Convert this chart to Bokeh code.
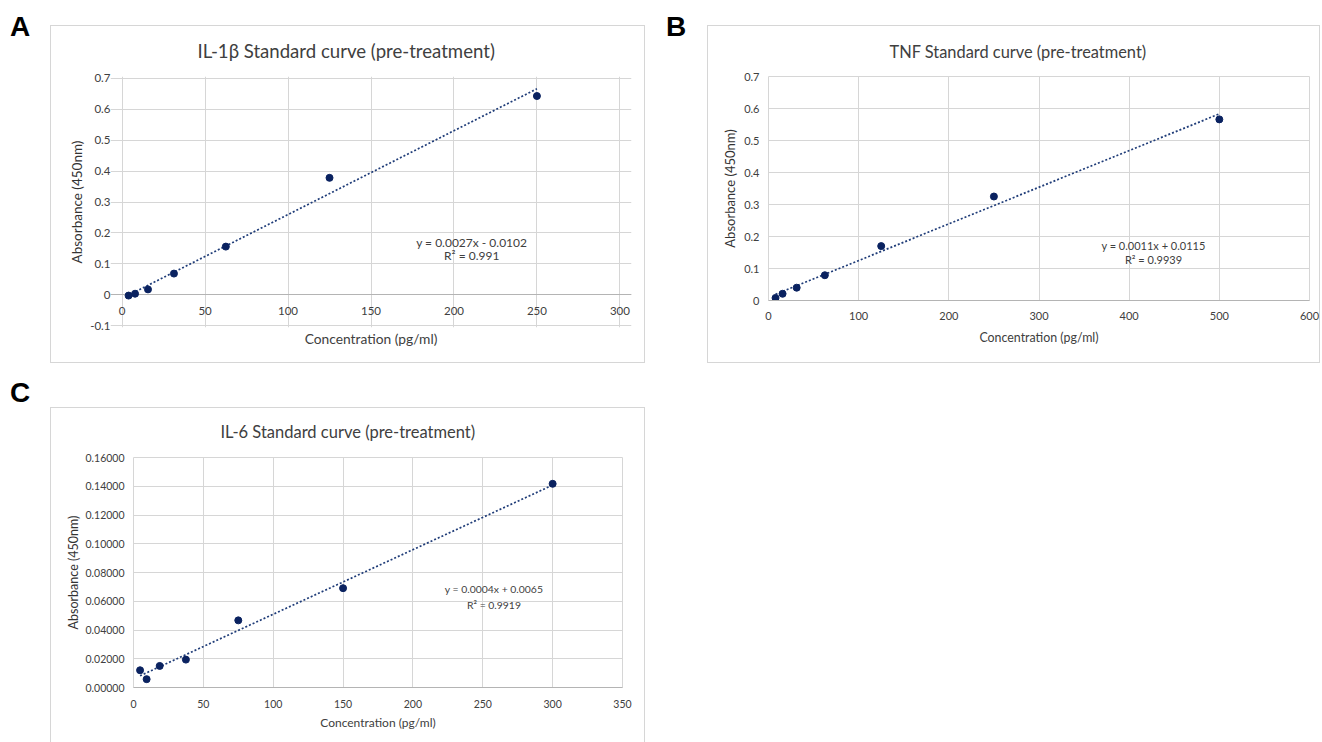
import numpy as np
from bokeh.plotting import figure
from bokeh.layouts import row, column
from bokeh.models import Div, Label, FixedTicker, NumeralTickFormatter, Range1d, Title, Grid
from bokeh.core.properties import value
from bokeh.embed import file_html
from bokeh.resources import INLINE

# ---------------- data ----------------
il1b_conc = [3.9, 7.8, 15.6, 31.25, 62.5, 125, 250]
il1b_abs = [-0.002, 0.004, 0.018, 0.069, 0.156, 0.378, 0.642]
il1b_eq = "y = 0.0027x - 0.0102"
il1b_r2 = "R\u00b2 = 0.991"
il1b_xticks = [0, 50, 100, 150, 200, 250, 300]
il1b_yticks = [-0.1, 0, 0.1, 0.2, 0.3, 0.4, 0.5, 0.6, 0.7]

tnf_conc = [7.8, 15.6, 31.25, 62.5, 125, 250, 500]
tnf_abs = [0.008, 0.021, 0.040, 0.079, 0.170, 0.325, 0.566]
tnf_eq = "y = 0.0011x + 0.0115"
tnf_r2 = "R\u00b2 = 0.9939"
tnf_xticks = [0, 100, 200, 300, 400, 500, 600]
tnf_yticks = [0, 0.1, 0.2, 0.3, 0.4, 0.5, 0.6, 0.7]

il6_conc = [4.7, 9.4, 18.75, 37.5, 75, 150, 300]
il6_abs = [0.0120, 0.0058, 0.0150, 0.0194, 0.0467, 0.0691, 0.1417]
il6_eq = "y = 0.0004x + 0.0065"
il6_r2 = "R\u00b2 = 0.9919"
il6_xticks = [0, 50, 100, 150, 200, 250, 300, 350]
il6_yticks = [0, 0.02, 0.04, 0.06, 0.08, 0.10, 0.12, 0.14, 0.16]

x_title = "Concentration (pg/ml)"
y_title = "Absorbance (450nm)"

# ---------------- styles ----------------
FONT = "Lato"
TXT = "#404040"
YTXT = "#333333"
GRID = "#d6d6d6"
AXIS = "#b4b4b4"
DOT = "#0a2260"
TREND = "#1f3c78"
BOX = {"outline": "1px solid #d6d6d6", "outline-offset": "-1px"}
BOX_OPEN = {"box-shadow": "inset 1px 1px 0 #d6d6d6, inset -1px 0 0 #d6d6d6"}


def style_axis(ax, cfg):
    ax.major_tick_line_color = None
    ax.minor_tick_line_color = None
    ax.major_tick_out = 0
    ax.major_tick_in = 0
    ax.minor_tick_out = 0
    ax.minor_tick_in = 0
    ax.major_label_text_font = FONT
    ax.major_label_text_font_size = cfg["kfs"]
    ax.major_label_text_color = TXT
    ax.axis_label_text_font = FONT
    ax.axis_label_text_font_style = "normal"
    ax.axis_label_text_color = TXT


def panel(conc, absb, title, eq, r2, xticks, yticks, yfmt, cfg):
    xp, yp = cfg.get("pad", (0, 0))
    cross = cfg.get("cross", False)
    p = figure(width=cfg["w"], height=cfg["h"],
               x_range=Range1d(xticks[0] - xp, xticks[-1] + xp),
               y_range=Range1d(yticks[0] - yp, yticks[-1] + yp),
               x_axis_location=None if cross else "below",
               output_backend="svg", toolbar_location=None,
               min_border_left=cfg["bl"], min_border_right=cfg["br"],
               min_border_top=cfg["bt"], min_border_bottom=cfg["bb"],
               margin=cfg["margin"], styles=cfg["styles"])
    p.border_fill_alpha = 0
    p.background_fill_alpha = 0
    p.title.text = title
    p.title.text_font = FONT
    p.title.text_font_size = cfg["tfs"]
    p.title.text_font_style = "normal"
    p.title.text_color = TXT
    p.title.align = "left"
    p.title.vertical_align = "top"
    p.title.offset = cfg["toff"]
    p.title.standoff = cfg["tso"]

    p.xgrid.ticker = FixedTicker(ticks=xticks)
    p.ygrid.ticker = FixedTicker(ticks=yticks)
    p.yaxis.ticker = FixedTicker(ticks=yticks)
    p.yaxis.formatter = NumeralTickFormatter(format=yfmt)
    style_axis(p.yaxis[0], cfg)
    p.yaxis.axis_line_color = None
    p.yaxis.major_label_standoff = cfg["ys"]
    p.yaxis.axis_label = y_title
    p.yaxis.axis_label_text_font_size = cfg["yafs"]
    p.yaxis.axis_label_text_color = YTXT
    p.yaxis.axis_label_standoff = cfg["yas"]
    p.grid.grid_line_color = GRID

    if cross:
        # horizontal axis crosses at y = 0 (Excel style)
        p.outline_line_color = None
        p.xgrid.bounds = (yticks[0], yticks[-1])
        p.ygrid.bounds = (xticks[0], xticks[-1])
        zero = Grid(dimension=1, ticker=FixedTicker(ticks=[0]), grid_line_color=AXIS,
                    bounds=(xticks[0], xticks[-1]))
        p.add_layout(zero)
        p.text(x=xticks, y=[0] * len(xticks), text=[str(t) for t in xticks],
               text_align="center", text_baseline="middle", y_offset=cfg["xs"],
               text_font=value(FONT), text_font_size=value(cfg["kfs"]), text_color=TXT)
        p.add_layout(Title(text=x_title, align="center", text_font=FONT,
                           text_font_size=cfg["xafs"], text_font_style="normal",
                           text_color=TXT, standoff=cfg["xas"]), "below")
    else:
        p.xaxis.ticker = FixedTicker(ticks=xticks)
        p.xaxis.formatter = NumeralTickFormatter(format="0")
        style_axis(p.xaxis[0], cfg)
        p.outline_line_color = GRID
        p.xaxis.axis_line_color = AXIS
        p.xaxis.major_label_standoff = cfg["xs"]
        p.xaxis.axis_label = x_title
        p.xaxis.axis_label_text_font_size = cfg["xafs"]
        p.xaxis.axis_label_standoff = cfg["xas"]

    coef = np.polyfit(conc, absb, 1)
    xs = np.array([min(conc), max(conc)])
    p.line(xs, coef[0] * xs + coef[1], line_dash="2 2", line_width=1.7, color=TREND)
    p.scatter(conc, absb, size=7, color=DOT)

    for txt, yy in ((eq, cfg["ey"][0]), (r2, cfg["ey"][1])):
        p.add_layout(Label(x=cfg["ex"], y=yy, text=txt, text_align="center",
                           text_baseline="middle", text_font=FONT,
                           text_font_size=cfg["efs"], text_color=TXT))
    return p


cfgA = dict(w=595, h=338, bl=60, br=14, bt=51, bb=36, margin=(25, 0, 0, 0), styles=BOX,
            pad=(7, 0.005), tfs="18.6px", toff=87, tso=25, kfs="11.5px", ys=0, xs=16,
            yafs="13.5px", yas=2, xafs="13.8px", xas=0, ex=210.7, ey=(0.168, 0.126),
            efs="12px", cross=True)
cfgB = dict(w=613, h=338, bl=61, br=11, bt=51, bb=63, margin=(25, 0, 0, 0), styles=BOX,
            tfs="16.4px", toff=121, tso=28, kfs="11px", ys=9, xs=11, yafs="13px", yas=3,
            xafs="12.4px", xas=7, ex=427, ey=(0.172, 0.128), efs="11px")
cfgC = dict(w=595, h=335, bl=83, br=23, bt=50, bb=55, margin=(44, 0, 0, 0), styles=BOX_OPEN,
            tfs="16.5px", toff=87, tso=27, kfs="10.5px", ys=9, xs=12, yafs="12.5px", yas=1,
            xafs="12px", xas=4, ex=258, ey=(0.0682, 0.0577), efs="10.4px")

pA = panel(il1b_conc, il1b_abs, "IL-1\u03b2 Standard curve (pre-treatment)", il1b_eq, il1b_r2,
           il1b_xticks, il1b_yticks, "0.[0]", cfgA)
pB = panel(tnf_conc, tnf_abs, "TNF Standard curve (pre-treatment)", tnf_eq, tnf_r2,
           tnf_xticks, tnf_yticks, "0.[0]", cfgB)
pC = panel(il6_conc, il6_abs, "IL-6 Standard curve (pre-treatment)", il6_eq, il6_r2,
           il6_xticks, il6_yticks, "0.00000", cfgC)

LBL = {"font-family": "Liberation Sans", "font-size": "28px", "font-weight": "bold",
       "line-height": "28px", "color": "#000000"}
dA = Div(text="A", width=40, height=30, margin=(13, 0, 0, 10), styles=LBL)
dB = Div(text="B", width=41, height=30, margin=(13, 0, 0, 21), styles=LBL)
dC = Div(text="C", width=40, height=30, margin=(16, 0, 0, 10), styles=LBL)

left = column(row(dA, pA), row(dC, pC))
right = row(dB, pB)
layout = row(left, right)
open("out.html", "w").write(file_html(layout, INLINE))
